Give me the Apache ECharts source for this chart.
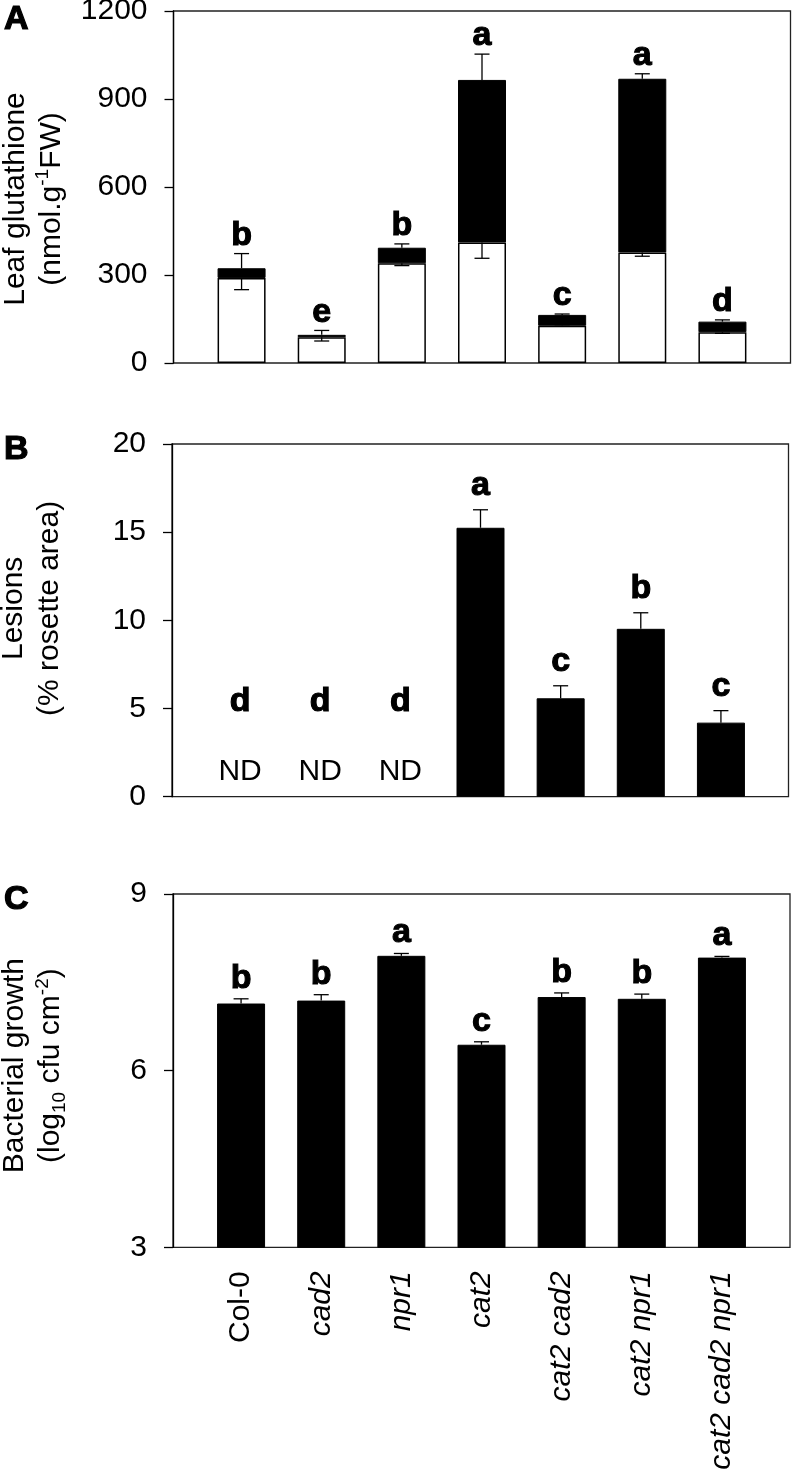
<!DOCTYPE html>
<html><head><meta charset="utf-8">
<script src="https://cdn.jsdelivr.net/npm/echarts@6/dist/echarts.min.js"></script>
<style>html,body{margin:0;padding:0;background:#fff}#c{width:792px;height:1473px}</style>
</head><body><div id="c"></div>
<script>
// ---------- data ----------
const categories = ['Col-0', 'cad2', 'npr1', 'cat2', 'cat2 cad2', 'cat2 npr1', 'cat2 cad2 npr1'];

// Panel A: leaf glutathione (nmol g-1 FW)
const gshTotal      = [323, 96, 393, 965, 164, 969, 141];
const gshTotalErr   = [50, 15, 13, 88, 3, 17, 6];
const gshReduced    = [290, 88, 340, 411, 127, 377, 105];
const gshReducedErr = [40, 13, 8, 54, 2, 13, 4];
const gshLetters    = ['b', 'e', 'b', 'a', 'c', 'a', 'd'];
const gshTicks      = {min: 0, max: 1200, interval: 300};

// Panel B: lesions (% rosette area); null = ND (not detected)
const lesions        = [null, null, null, 15.25, 5.58, 9.52, 4.2];
const lesionsErr     = [null, null, null, 1.02, 0.71, 0.91, 0.68];
const lesionLetters  = ['d', 'd', 'd', 'a', 'c', 'b', 'c'];
const lesionTicks    = {min: 0, max: 20, interval: 5};

// Panel C: bacterial growth (log10 cfu cm-2)
const growth        = [7.14, 7.19, 7.95, 6.44, 7.25, 7.22, 7.92];
const growthErr     = [0.08, 0.10, 0.04, 0.05, 0.07, 0.08, 0.02];
const growthLetters = ['b', 'b', 'a', 'c', 'b', 'b', 'a'];
const growthTicks   = {min: 3, max: 9, interval: 3};

// ---------- layout / style ----------
const FONT = '"Liberation Sans", Arial, Helvetica, sans-serif';
const layout = [
  {top: 11,  height: 352,   left: 173.5, width: 617},
  {top: 444, height: 352.7, left: 172,   width: 616.5},
  {top: 894, height: 353.3, left: 173,   width: 617}
];
const INNER_OFFSET = 28, INNER_WIDTH = 561;

const grids = [], xAxes = [], yAxes = [], series = [];

const richName = {
  sup: {fontSize: 19, verticalAlign: 'top', fontFamily: FONT, color: '#000'},
  sub: {fontSize: 19, verticalAlign: 'bottom', fontFamily: FONT, color: '#000'}
};

function addPanel(k, ticks, name, pad, showX) {
  const L = layout[k];
  grids.push({left: L.left, top: L.top, width: L.width, height: L.height, containLabel: false, outerBoundsMode: 'none',
    show: true, borderColor: '#222', borderWidth: 1.3, backgroundColor: 'transparent'});
  grids.push({left: L.left + INNER_OFFSET, top: L.top, width: INNER_WIDTH, height: L.height,
    containLabel: false, outerBoundsMode: 'none'});
  const go = 2 * k, gi = 2 * k + 1;
  xAxes.push({gridIndex: go, type: 'value', min: 0, max: 1, show: false});
  xAxes.push({gridIndex: gi, type: 'category', data: categories,
    axisLine: {show: false}, axisTick: {show: false},
    axisLabel: showX ? {
      show: true, rotate: 90, margin: 24, interval: 0,
      formatter: v => (v === 'Col-0' ? '{n|' + v + '}' : '{i|' + v + '}'),
      rich: {
        n: {fontSize: 30, fontFamily: FONT, color: '#000'},
        i: {fontSize: 30, fontFamily: FONT, fontStyle: 'italic', color: '#000'}
      }
    } : {show: false}
  });
  yAxes.push({gridIndex: go, type: 'value', min: ticks.min, max: ticks.max, interval: ticks.interval,
    axisLine: {show: true, lineStyle: {color: '#000', width: 1.3}},
    axisTick: {show: true, inside: false, length: 9, lineStyle: {color: '#000', width: 1.3}},
    axisLabel: {fontSize: 30, color: '#000', fontFamily: FONT, margin: 26, formatter: v => String(v)},
    splitLine: {show: false},
    name: name, nameLocation: 'middle', nameGap: 104, nameRotate: 90,
    nameTextStyle: {fontSize: 30, lineHeight: 36, color: '#000', fontFamily: FONT, padding: pad, rich: richName}
  });
  yAxes.push({gridIndex: gi, type: 'value', min: ticks.min, max: ticks.max, show: false});
  return gi;
}

function errSeries(ai, vals, errs, dir) {
  return {
    type: 'custom', xAxisIndex: ai, yAxisIndex: ai, silent: true, z: 5,
    data: vals.map((v, i) => [i, v, errs[i]]).filter(d => d[1] != null),
    renderItem: (params, api) => {
      const x = api.value(0), v = api.value(1), e = api.value(2);
      const a = api.coord([x, v]), b = api.coord([x, v + dir * e]);
      const hw = 7.5, st = {stroke: '#000', lineWidth: 1.3};
      return {type: 'group', children: [
        {type: 'line', shape: {x1: a[0], y1: a[1], x2: b[0], y2: b[1]}, style: st},
        {type: 'line', shape: {x1: b[0] - hw, y1: b[1], x2: b[0] + hw, y2: b[1]}, style: st}
      ]};
    }
  };
}

function letterSeries(ai, vals, errs, letters, gap, ndOffset) {
  return {
    type: 'custom', xAxisIndex: ai, yAxisIndex: ai, silent: true, z: 6,
    data: vals.map((v, i) => [i, v == null ? 0 : v + errs[i], v == null ? 1 : 0]),
    renderItem: (params, api) => {
      const i = api.value(0), nd = api.value(2) === 1;
      const p = api.coord([i, api.value(1)]);
      return {type: 'text', x: p[0], y: p[1] - (nd ? ndOffset : gap),
        style: {text: letters[i], fill: '#000', stroke: '#000', lineWidth: 1.1,
          fontSize: 34, fontWeight: 'bold', fontFamily: FONT,
          align: 'center', verticalAlign: 'bottom'}};
    }
  };
}

function ndSeries(ai, vals) {
  return {
    type: 'custom', xAxisIndex: ai, yAxisIndex: ai, silent: true, z: 6,
    data: vals.map((v, i) => [i, 0, v]).filter(d => d[2] == null).map(d => [d[0], 0]),
    renderItem: (params, api) => {
      const p = api.coord([api.value(0), 0]);
      return {type: 'text', x: p[0], y: p[1] - 10,
        style: {text: 'ND', fill: '#000', fontSize: 30, fontFamily: FONT, align: 'center', verticalAlign: 'bottom'}};
    }
  };
}

// Panel A
const aA = addPanel(0, gshTicks, 'Leaf glutathione\n(nmol.g{sup|-1}FW)', [0, 24, 0, 0], false);
series.push({type: 'bar', xAxisIndex: aA, yAxisIndex: aA, stack: 'gsh', data: gshReduced, barWidth: 48, silent: true,
  itemStyle: {color: '#fff', borderColor: '#000', borderWidth: 1.5}});
series.push({type: 'bar', xAxisIndex: aA, yAxisIndex: aA, stack: 'gsh', barWidth: 48, silent: true,
  data: gshTotal.map((t, i) => t - gshReduced[i]),
  itemStyle: {color: '#000', borderColor: '#000', borderWidth: 1}});
series.push(errSeries(aA, gshTotal, gshTotalErr, 1));
series.push(errSeries(aA, gshReduced, gshReducedErr, -1));
series.push(letterSeries(aA, gshTotal, gshTotalErr, gshLetters, 1, 0));

// Panel B
const aB = addPanel(1, lesionTicks, 'Lesions\n(% rosette area)', [0, 0, 0, 24], false);
series.push({type: 'bar', xAxisIndex: aB, yAxisIndex: aB, data: lesions, barWidth: 48, silent: true,
  itemStyle: {color: '#000', borderColor: '#000', borderWidth: 1}});
series.push(errSeries(aB, lesions, lesionsErr, 1));
series.push(letterSeries(aB, lesions, lesionsErr, lesionLetters, 7.5, 78));
series.push(ndSeries(aB, lesions));

// Panel C
const aC = addPanel(2, growthTicks, 'Bacterial growth\n(log{sub|10} cfu cm{sup|-2})', [0, 0, 0, 10], true);
series.push({type: 'bar', xAxisIndex: aC, yAxisIndex: aC, data: growth, barWidth: 48, silent: true,
  itemStyle: {color: '#000', borderColor: '#000', borderWidth: 1}});
series.push(errSeries(aC, growth, growthErr, 1));
series.push(letterSeries(aC, growth, growthErr, growthLetters, 3.5, 0));

const panelTitle = (t, top) => ({text: t, left: 4, top: top, padding: 0,
  textStyle: {fontSize: 34, fontWeight: 'bold', color: '#000', fontFamily: FONT, textBorderColor: '#000', textBorderWidth: 1.2}});

const chart = echarts.init(document.getElementById('c'), null, {renderer: 'canvas'});
chart.setOption({
  animation: false,
  backgroundColor: '#fff',
  textStyle: {fontFamily: FONT},
  title: [panelTitle('A', 3), panelTitle('B', 433), panelTitle('C', 883)],
  grid: grids, xAxis: xAxes, yAxis: yAxes, series: series
});
</script>
</body></html>
